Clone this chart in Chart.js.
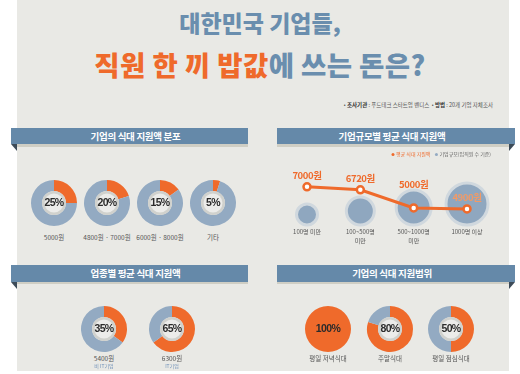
<!DOCTYPE html>
<html><head><meta charset="utf-8">
<script src="https://cdn.jsdelivr.net/npm/chart.js@4"></script>
<style>
html,body{margin:0;padding:0;background:#fff;}
#root{position:relative;width:520px;height:374px;overflow:hidden;font-family:'Noto Sans CJK KR','Noto Sans',sans-serif;}
#panel{position:absolute;left:17px;top:0;width:492px;height:371px;background:#e9e9e5;}
.title{position:absolute;left:0;width:520px;text-align:center;font-weight:900;white-space:nowrap;}
.t1{top:8px;font-size:23px;line-height:28px;color:#6a8eae;letter-spacing:0px;}
.t2{top:48px;font-size:27.5px;line-height:32px;color:#6a8eae;letter-spacing:0.4px;}
.t2 .o{color:#ef6a2b;}
.src{position:absolute;right:27px;top:101px;font-size:5.5px;line-height:8px;color:#555;white-space:nowrap;}
.src b{color:#333;}
.banner{position:absolute;height:16px;background:#6589a9;color:#fff;font-weight:700;font-size:9.5px;line-height:16px;text-align:center;letter-spacing:-0.3px;white-space:nowrap;}
.shadow{position:absolute;height:3px;background:#cfcec4;}
.tail{position:absolute;width:6px;height:7px;background:#3d4b58;}
.lbl{position:absolute;width:80px;text-align:center;font-size:6.5px;line-height:8px;color:#555;white-space:nowrap;}
.sub{position:absolute;width:80px;text-align:center;font-size:5px;line-height:7px;color:#6f90b8;white-space:nowrap;}
canvas{position:absolute;}
</style></head>
<body><div id="root">
<div id="panel"></div>
<div class="title t1">대한민국 기업들,</div>
<div class="title t2"><span class="o">직원 한 끼 밥값</span>에 쓰는 돈은?</div>
<div class="src">• <b>조사기관</b> : 푸드테크 스타트업 벤디스 &nbsp;• <b>방법</b> : 20개 기업 자체조사</div>

<div class="shadow" style="left:17px;top:144px;width:231px"></div>
<div class="banner" style="left:11px;top:128px;width:237px;padding-left:12px;box-sizing:border-box">기업의 식대 지원액 분포</div>
<div class="tail" style="left:11px;top:144px;clip-path:polygon(0 0,100% 0,100% 100%)"></div>

<div class="shadow" style="left:277px;top:144px;width:232px"></div>
<div class="banner" style="left:277px;top:128px;width:238px;padding-right:8px;box-sizing:border-box">기업규모별 평균 식대 지원액</div>
<div class="tail" style="left:509px;top:144px;clip-path:polygon(0 0,100% 0,0 100%)"></div>

<div class="shadow" style="left:17px;top:281px;width:231px"></div>
<div class="banner" style="left:11px;top:265px;width:237px;height:17px;line-height:17px;padding-left:12px;box-sizing:border-box">업종별 평균 식대 지원액</div>
<div class="tail" style="left:11px;top:282px;clip-path:polygon(0 0,100% 0,100% 100%)"></div>

<div class="shadow" style="left:277px;top:281px;width:232px"></div>
<div class="banner" style="left:277px;top:265px;width:238px;height:17px;line-height:17px;padding-right:8px;box-sizing:border-box">기업의 식대 지원범위</div>
<div class="tail" style="left:509px;top:282px;clip-path:polygon(0 0,100% 0,0 100%)"></div>
</div>
<script>
// ---- data ----
const distCategories = ['5000원', '4800원 · 7000원', '6000원 · 8000원', '기타'];
const distShare = [25, 20, 15, 5];

const sizeCategories = [['100명 미만'], ['100~500명', '미만'], ['500~1000명', '미만'], ['1000명 이상']];
const sizeMeal = [7000, 6720, 5000, 4900];
const sizeRank = [1, 2, 3, 4];
const sizeLegend = ['평균 식대 지원액', '기업규모(임직원 수 기준)'];

const industryMeal = [5400, 6300];
const industryNames = ['비 IT기업', 'IT기업'];
const industryShare = [35, 65];

const scopeNames = ['평일 저녁식대', '주말식대', '평일 점심식대'];
const scopeShare = [100, 80, 50];

// ---- style / layout ----
const ORANGE = '#ef6a2b';
const BLUE = '#93aac2';
const root = document.getElementById('root');
const LAYOUT = {
  dist: { y: 203, xs: [54, 107, 160, 213], labelY: 233 },
  industry: { y: 329, xs: [104, 172], labelY: 354 },
  scope: { y: 329, xs: [328, 390, 451], labelY: 354 }
};

const centerPlugin = {
  id: 'centerDisk',
  afterDatasetsDraw(chart, args, opts) {
    const arc = chart.getDatasetMeta(0).data[0];
    const { x, y, innerRadius } = arc.getProps(['x', 'y', 'innerRadius'], true);
    const ctx = chart.ctx;
    ctx.save();
    if (innerRadius > 0) {
      ctx.fillStyle = '#d0d1cd';
      ctx.beginPath(); ctx.arc(x, y, innerRadius, 0, Math.PI * 2); ctx.fill();
      ctx.fillStyle = '#ececea';
      ctx.beginPath(); ctx.arc(x, y, innerRadius - 2.5, 0, Math.PI * 2); ctx.fill();
    }
    ctx.fillStyle = '#2b2b2b';
    ctx.font = 'bold 10.5px "Liberation Sans", Arial, sans-serif';
    ctx.textAlign = 'center';
    ctx.textBaseline = 'middle';
    try { ctx.letterSpacing = '-0.6px'; } catch (e) {}
    ctx.fillText(opts.text, x, y + 0.5);
    ctx.restore();
  }
};

function donut(cx, cy, share) {
  const c = document.createElement('canvas');
  c.width = 48; c.height = 48;
  c.style.left = Math.round(cx - 24) + 'px';
  c.style.top = Math.round(cy - 24) + 'px';
  root.appendChild(c);
  new Chart(c, {
    type: 'doughnut',
    data: { datasets: [{ data: [share, 100 - share], backgroundColor: [ORANGE, BLUE], borderWidth: 0 }] },
    options: {
      responsive: false, animation: false, events: [],
      cutout: share >= 100 ? 0 : '52%',
      layout: { padding: 1, autoPadding: false },
      plugins: { legend: { display: false }, tooltip: { enabled: false }, centerDisk: { text: share + '%' } }
    },
    plugins: [centerPlugin]
  });
}

function label(cx, y, text, cls) {
  const d = document.createElement('div');
  d.className = cls || 'lbl';
  d.style.left = (cx - 40) + 'px';
  d.style.top = y + 'px';
  d.textContent = text;
  root.appendChild(d);
}

distShare.forEach((s, i) => {
  donut(LAYOUT.dist.xs[i], LAYOUT.dist.y, s);
  label(LAYOUT.dist.xs[i], LAYOUT.dist.labelY, distCategories[i]);
});
industryShare.forEach((s, i) => {
  donut(LAYOUT.industry.xs[i], LAYOUT.industry.y, s);
  label(LAYOUT.industry.xs[i], LAYOUT.industry.labelY, industryMeal[i] + '원');
  label(LAYOUT.industry.xs[i], LAYOUT.industry.labelY + 8, industryNames[i], 'sub');
});
scopeShare.forEach((s, i) => {
  donut(LAYOUT.scope.xs[i], LAYOUT.scope.y, s);
  label(LAYOUT.scope.xs[i], LAYOUT.scope.labelY, scopeNames[i]);
});

// ---- company size chart ----
const sizePlugin = {
  id: 'sizeText',
  afterDraw(chart, args, opts) {
    const ctx = chart.ctx;
    const xs = chart.scales.x, ys = chart.scales.y;
    ctx.save();
    ctx.textAlign = 'center';
    ctx.textBaseline = 'middle';
    ctx.font = 'bold 9.5px "Noto Sans CJK KR", sans-serif';
    try { ctx.letterSpacing = '-0.4px'; } catch (e) {}
    sizeMeal.forEach((v, i) => {
      ctx.fillStyle = opts.valueColors[i];
      ctx.fillText(v + '원', xs.getPixelForValue(i), ys.getPixelForValue(v) - opts.valueOffsets[i]);
    });
    ctx.font = '6px "Noto Sans CJK KR", sans-serif';
    try { ctx.letterSpacing = '0px'; } catch (e) {}
    ctx.fillStyle = '#555';
    sizeCategories.forEach((lines, i) => {
      lines.forEach((t, k) => ctx.fillText(t, xs.getPixelForValue(i), chart.height - 18 + k * 9));
    });
    ctx.font = '5px "Noto Sans CJK KR", sans-serif';
    ctx.textAlign = 'left';
    const ly = 4.5;
    let lx = 133;
    [ORANGE, BLUE].forEach((col, i) => {
      ctx.fillStyle = col;
      ctx.beginPath(); ctx.arc(lx, ly, 1.5, 0, Math.PI * 2); ctx.fill();
      ctx.fillStyle = i === 0 ? ORANGE : '#666';
      ctx.fillText(sizeLegend[i], lx + 3, ly);
      lx += 3 + ctx.measureText(sizeLegend[i]).width + 6;
    });
    ctx.restore();
  }
};

const cv = document.createElement('canvas');
cv.width = 260; cv.height = 100;
cv.style.left = '260px'; cv.style.top = '150px';
root.appendChild(cv);
new Chart(cv, {
  type: 'bubble',
  data: {
    datasets: [
      {
        type: 'line', yAxisID: 'y', order: 0, clip: false,
        data: sizeMeal.map((v, i) => ({ x: i, y: v })),
        borderColor: ORANGE, borderWidth: 3, tension: 0,
        pointRadius: 3.5, pointBorderWidth: 2.5,
        pointBackgroundColor: '#fff', pointBorderColor: ORANGE
      },
      {
        type: 'bubble', yAxisID: 'yb', order: 1, clip: false,
        data: sizeRank.map((s, i) => { const r = 7 + 3.5 * s; return { x: i, y: 25 + r, r: r }; }),
        backgroundColor: '#8fa7bf', borderColor: '#d0d8de', borderWidth: 3
      }
    ]
  },
  options: {
    responsive: false, animation: false, events: [],
    layout: { padding: { left: 47, right: 53, top: 0, bottom: 0 }, autoPadding: false },
    scales: {
      x: { type: 'linear', min: 0, max: 3, display: false },
      y: { type: 'linear', min: 1000, max: 10500, display: false },
      yb: { type: 'linear', min: 0, max: 100, display: false }
    },
    plugins: {
      legend: { display: false }, tooltip: { enabled: false },
      sizeText: { valueOffsets: [11, 11, 24, 12], valueColors: [ORANGE, ORANGE, ORANGE, '#f29a66'] }
    }
  },
  plugins: [sizePlugin]
});
</script>
</body></html>
